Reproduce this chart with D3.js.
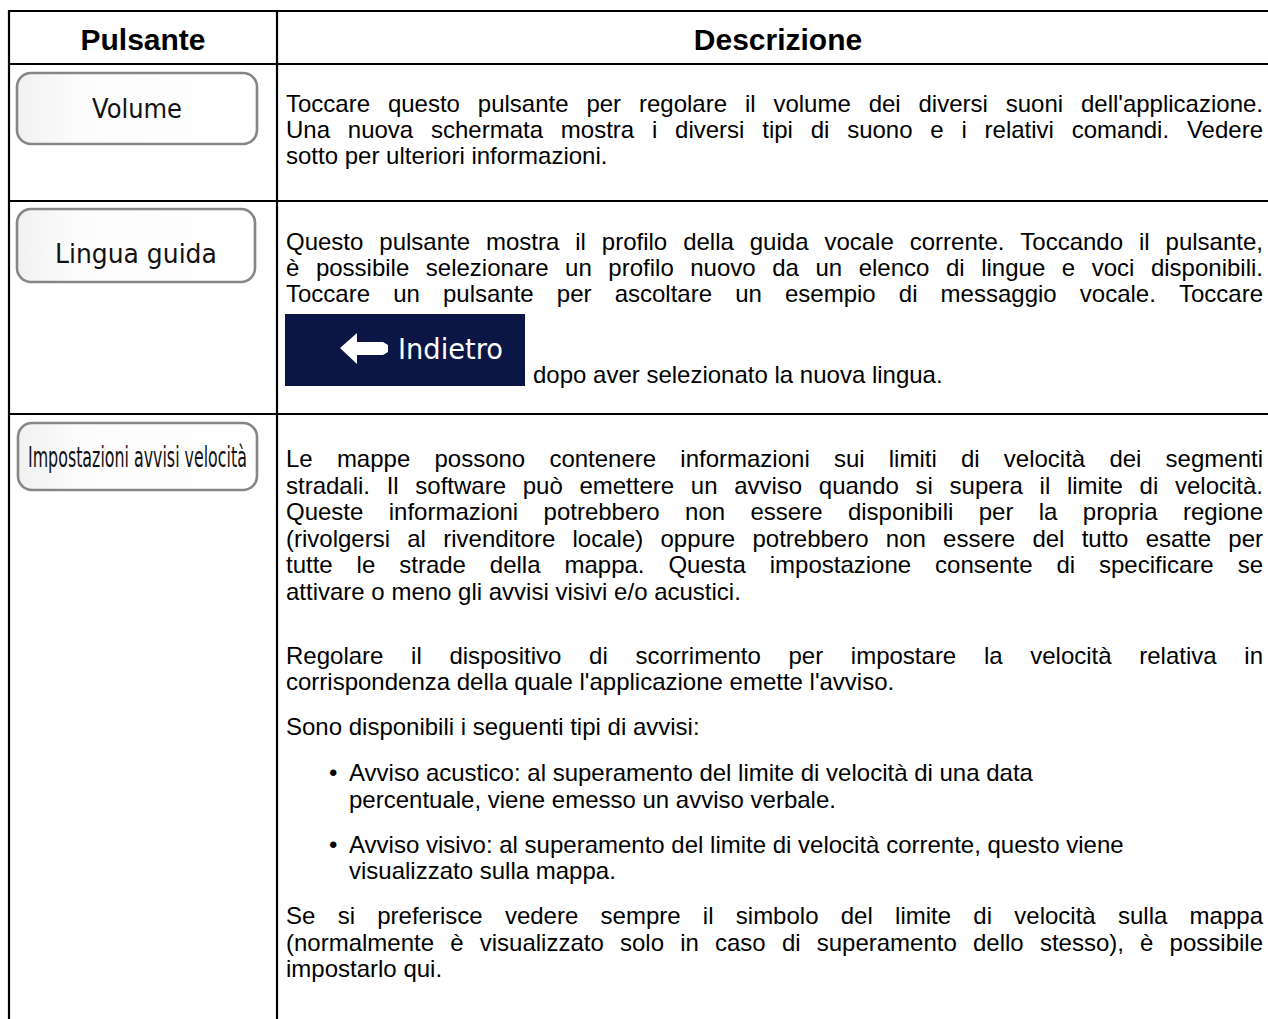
<!DOCTYPE html>
<html>
<head>
<meta charset="utf-8">
<script src="https://cdn.jsdelivr.net/npm/d3@7"></script>
<style>
  html, body { margin: 0; padding: 0; background: #ffffff; }
  svg { display: block; }
</style>
</head>
<body>
<svg id="chart" width="1268" height="1019"></svg>
<script>
// ---------- DATA ----------
const headers = ["Pulsante", "Descrizione"];
const buttonLabels = ["Volume", "Lingua guida", "Impostazioni avvisi velocità"];
const inlineButtonLabel = "Indietro";

const volumeParagraphs = [
  { kind: "justify", lines: [
    "Toccare questo pulsante per regolare il volume dei diversi suoni dell'applicazione.",
    "Una nuova schermata mostra i diversi tipi di suono e i relativi comandi. Vedere",
    "sotto per ulteriori informazioni."
  ]}
];

const linguaLines = [
  "Questo pulsante mostra il profilo della guida vocale corrente. Toccando il pulsante,",
  "è possibile selezionare un profilo nuovo da un elenco di lingue e voci disponibili.",
  "Toccare un pulsante per ascoltare un esempio di messaggio vocale. Toccare"
];
const linguaAfterButton = "dopo aver selezionato la nuova lingua.";

const velocitaParagraphs = [
  { kind: "justify", lines: [
    "Le mappe possono contenere informazioni sui limiti di velocità dei segmenti",
    "stradali. Il software può emettere un avviso quando si supera il limite di velocità.",
    "Queste informazioni potrebbero non essere disponibili per la propria regione",
    "(rivolgersi al rivenditore locale) oppure potrebbero non essere del tutto esatte per",
    "tutte le strade della mappa. Questa impostazione consente di specificare se",
    "attivare o meno gli avvisi visivi e/o acustici."
  ]},
  { kind: "justify", lines: [
    "Regolare il dispositivo di scorrimento per impostare la velocità relativa in",
    "corrispondenza della quale l'applicazione emette l'avviso."
  ]},
  { kind: "plain", lines: [
    "Sono disponibili i seguenti tipi di avvisi:"
  ]},
  { kind: "bullet", lines: [
    "Avviso acustico: al superamento del limite di velocità di una data",
    "percentuale, viene emesso un avviso verbale."
  ]},
  { kind: "bullet", lines: [
    "Avviso visivo: al superamento del limite di velocità corrente, questo viene",
    "visualizzato sulla mappa."
  ]},
  { kind: "justify", lines: [
    "Se si preferisce vedere sempre il simbolo del limite di velocità sulla mappa",
    "(normalmente è visualizzato solo in caso di superamento dello stesso), è possibile",
    "impostarlo qui."
  ]}
];

// ---------- LAYOUT ----------
const W = 1268, H = 1019;
const svg = d3.select("#chart");

// column scale: column index -> left edge
const colX = d3.scaleOrdinal().domain([0, 1, 2]).range([9, 277, 1279]);
// row scale: row index -> top edge (0 = header)
const rowY = d3.scaleOrdinal().domain([0, 1, 2, 3]).range([11, 64, 201, 414]);

const textLeft = 286, textRight = 1263;
const bodyFont = "'Liberation Sans', Arial, Helvetica, sans-serif";
const btnFont = "'DejaVu Sans', Tahoma, Verdana, sans-serif";

// defs: button gradient
const defs = svg.append("defs");
const grad = defs.append("linearGradient").attr("id", "btnGrad")
  .attr("x1", "0").attr("y1", "0").attr("x2", "1").attr("y2", "0");
grad.append("stop").attr("offset", "0").attr("stop-color", "#f1f1f1");
grad.append("stop").attr("offset", "0.25").attr("stop-color", "#fcfcfc");
grad.append("stop").attr("offset", "1").attr("stop-color", "#ffffff");

// ---------- GRID LINES ----------
const grid = svg.append("g").attr("stroke", "#000").attr("stroke-width", 2.2);
grid.selectAll("line.h").data([0, 1, 2, 3]).join("line").attr("class", "h")
  .attr("x1", colX(0) - 1).attr("x2", W + 20)
  .attr("y1", d => rowY(d)).attr("y2", d => rowY(d));
grid.selectAll("line.v").data([0, 1]).join("line").attr("class", "v")
  .attr("x1", d => colX(d)).attr("x2", d => colX(d))
  .attr("y1", rowY(0) - 1).attr("y2", H + 5);

// ---------- HEADERS ----------
svg.selectAll("text.hdr").data(headers).join("text").attr("class", "hdr")
  .attr("x", (d, i) => (colX(i) + colX(i + 1)) / 2)
  .attr("y", 50)
  .attr("text-anchor", "middle")
  .attr("font-family", bodyFont).attr("font-weight", "bold").attr("font-size", 30)
  .attr("fill", "#000")
  .text(d => d);

// ---------- BUTTONS ----------
const btnBoxes = [
  { x: 17, y: 73, w: 240, h: 71, base: 118, tl: 90, fs: 26 },
  { x: 17, y: 209, w: 238, h: 73, base: 263, tl: 162, fs: 26 },
  { x: 18, y: 423, w: 239, h: 67, base: 467, tl: 219, fs: 29 }
];
const btnG = svg.selectAll("g.btn").data(buttonLabels).join("g").attr("class", "btn");
btnG.append("rect")
  .attr("x", (d, i) => btnBoxes[i].x).attr("y", (d, i) => btnBoxes[i].y)
  .attr("width", (d, i) => btnBoxes[i].w).attr("height", (d, i) => btnBoxes[i].h)
  .attr("rx", 14).attr("ry", 14)
  .attr("fill", "url(#btnGrad)").attr("stroke", "#868686").attr("stroke-width", 2.6);

// fit a text horizontally into a given width by scaling (keeps real bounds)
function fitText(sel, cx, base, target, anchorStart) {
  const node = sel.node();
  const natural = node.getComputedTextLength();
  const sx = target / natural;
  const left = anchorStart ? cx : cx - target / 2;
  sel.attr("x", 0).attr("y", 0)
    .attr("transform", `translate(${left},${base}) scale(${sx},1)`);
}
btnG.each(function (d, i) {
  const b = btnBoxes[i];
  const t = d3.select(this).append("text")
    .attr("font-family", btnFont).attr("font-size", b.fs)
    .attr("fill", "#111")
    .text(d);
  fitText(t, b.x + b.w / 2, b.base, b.tl, false);
});

// ---------- BODY TEXT ----------
const body = svg.append("g").attr("font-family", bodyFont).attr("font-size", 24).attr("fill", "#000");

function drawLine(text, x, y, width, justify) {
  if (!justify) {
    body.append("text").attr("x", x).attr("y", y).text(text);
    return;
  }
  const words = text.split(" ");
  const t = body.append("text").attr("y", y);
  const spans = words.map(w => t.append("tspan").text(w));
  const widths = spans.map(s => s.node().getComputedTextLength());
  const gap = (width - d3.sum(widths)) / Math.max(1, words.length - 1);
  let cx = x;
  spans.forEach((s, i) => { s.attr("x", cx); cx += widths[i] + gap; });
}

function drawParagraphs(paras, firstBase, lineH, gaps) {
  let y = firstBase;
  paras.forEach((p, pi) => {
    p.lines.forEach((ln, li) => {
      const last = li === p.lines.length - 1;
      if (p.kind === "bullet") {
        if (li === 0) body.append("text").attr("x", 329).attr("y", y).text("•");
        drawLine(ln, 349, y, 0, false);
      } else {
        drawLine(ln, textLeft, y, textRight - textLeft, p.kind === "justify" && !last);
      }
      if (!last) y += lineH;
    });
    if (pi < paras.length - 1) y += gaps[pi];
  });
}

drawParagraphs(volumeParagraphs, 112, 26, []);
// Lingua: justified lines (the last one continues into the inline button)
linguaLines.forEach((ln, i) => drawLine(ln, textLeft, 250 + i * 26, textRight - textLeft, true));
drawParagraphs(velocitaParagraphs, 467, 26.5, [64, 45, 46, 45, 45]);

// ---------- INLINE "Indietro" BUTTON ----------
const ib = svg.append("g");
ib.append("rect").attr("x", 285).attr("y", 314).attr("width", 240).attr("height", 72).attr("fill", "#0c1645");
ib.append("path")
  .attr("d", d3.line()([[340, 348], [357, 333], [357, 342], [383, 342], [388, 345], [388, 352], [383, 355], [357, 355], [357, 364]]) + "Z")
  .attr("fill", "#ffffff");
const ibText = ib.append("text")
  .attr("font-family", btnFont).attr("font-size", 29)
  .attr("fill", "#ffffff").text(inlineButtonLabel);
fitText(ibText, 398, 359, 105, true);
body.append("text").attr("x", 533).attr("y", 383).text(linguaAfterButton);
</script>
</body>
</html>
